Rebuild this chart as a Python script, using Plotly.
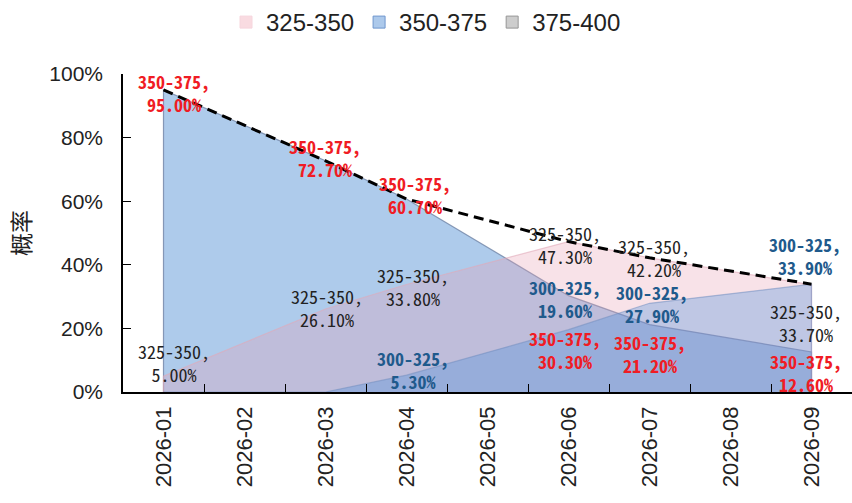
import plotly.graph_objects as go

# Monthly probability by rate bucket (None = month without a reading; gaps are bridged)
months = ["2026-01", "2026-02", "2026-03", "2026-04", "2026-05",
          "2026-06", "2026-07", "2026-08", "2026-09"]
p_350_375 = [95.0, None, 72.7, 60.7, None, 30.3, 21.2, None, 12.6]
p_325_350 = [5.0, None, 26.1, 33.8, None, 47.3, 42.2, None, 33.7]
p_300_325 = [0.0, None, 0.0, 5.3, None, 19.6, 27.9, None, 33.9]

legend_names = ["325-350", "350-375", "375-400"]
y_ticks = [0, 20, 40, 60, 80, 100]
y_tick_text = [f"{t}%" for t in y_ticks]

# Highest bucket probability per month (dashed envelope)
envelope = []
for a, b, c in zip(p_350_375, p_325_350, p_300_325):
    vals = [v for v in (a, b, c) if v is not None]
    envelope.append(max(vals) if vals else None)

LABEL_FONT = "Noto Sans Mono CJK SC, Noto Sans CJK SC, sans-serif"
TICK_FONT = "Liberation Sans, Arial, sans-serif"

fig = go.Figure()


def closed_area(values):
    """Outline of an area: drop to the baseline at both ends so the edges are stroked."""
    idx = [i for i, v in enumerate(values) if v is not None]
    xs = [months[idx[0]]] + months + [months[idx[-1]]]
    ys = [0] + list(values) + [0]
    return xs, ys


series = [
    # (values, fill colour, line colour)
    (p_350_375, "rgba(120,168,222,0.6)", "rgba(105,125,160,0.75)"),
    (p_325_350, "rgba(231,158,178,0.3)", "rgba(225,170,185,0.6)"),
    (p_300_325, "rgba(60,135,220,0.3)", "rgba(110,140,190,0.5)"),
]
for vals, fillc, linec in series:
    xs, ys = closed_area(vals)
    fig.add_trace(go.Scatter(
        x=xs, y=ys, mode="lines", fill="tozeroy", fillcolor=fillc,
        line=dict(color=linec, width=1.2), connectgaps=True,
        showlegend=False, hoverinfo="skip",
    ))

# dashed line tracing the top bucket
fig.add_trace(go.Scatter(
    x=months, y=envelope, mode="lines", connectgaps=True,
    line=dict(color="black", width=3, dash="10px,6px"),
    showlegend=False, hoverinfo="skip",
))

# legend swatches
legend_styles = [
    ("rgb(249,219,225)", "rgb(246,214,221)"),
    ("rgb(172,201,235)", "rgb(110,150,205)"),
    ("rgb(205,205,205)", "rgb(150,150,150)"),
]
for name, (fc, lc) in zip(legend_names, legend_styles):
    fig.add_trace(go.Bar(
        x=[None], y=[None], name=name,
        marker=dict(color=fc, line=dict(color=lc, width=1)),
        showlegend=True,
    ))

# data labels: (bucket, values, colour, bold, per-month pixel offsets)
label_sets = [
    ("350-375", p_350_375, "#f01c24", True,
     {0: (10, -3), 2: (-1, 3), 3: (8, 4), 5: (-4, -54), 6: (0, -29), 8: (-6, -21)}),
    ("325-350", p_325_350, "#222222", False,
     {0: (10, 14), 2: (1, 2), 3: (6, -2), 5: (-4, -3), 6: (4, 0), 8: (-6, -38)}),
    ("300-325", p_300_325, "#1f5a8c", True,
     {3: (6, 6), 5: (-4, 31), 6: (2, 0), 8: (-7, 29)}),
]
for bucket, vals, color, bold, offsets in label_sets:
    for i, v in enumerate(vals):
        if v is None or v <= 0:
            continue
        dx, dy = offsets.get(i, (0, 0))
        txt = f"{bucket},<br>{v:.2f}%"
        if bold:
            txt = f"<b>{bucket},</b><br><b>{v:.2f}%</b>"
        fig.add_annotation(
            x=months[i], y=v, text=txt, showarrow=False,
            xshift=dx, yshift=dy, align="center",
            font=dict(family=LABEL_FONT, size=18, color=color),
        )

fig.update_layout(
    width=852, height=503,
    margin=dict(l=123, r=0, t=74, b=111),
    paper_bgcolor="white", plot_bgcolor="white",
    barmode="overlay",
    legend=dict(
        orientation="h", xref="container", yref="container",
        x=0.5, xanchor="center", y=1.0, yanchor="top",
        font=dict(family=TICK_FONT, size=24, color="#222222"),
        itemwidth=30, traceorder="normal",
    ),
    showlegend=True,
)
fig.update_xaxes(
    type="category", categoryorder="array", categoryarray=months,
    range=[-0.5, 8.5], tickson="boundaries",
    ticks="inside", ticklen=8, tickcolor="black", tickwidth=1.2,
    showline=True, linecolor="black", linewidth=1.5,
    showgrid=False, zeroline=False, tickangle=-90,
    ticklabelstandoff=4,
    tickfont=dict(family=TICK_FONT, size=22, color="#222222"),
)
fig.update_yaxes(
    range=[0, 100], tickmode="array", tickvals=y_ticks, ticktext=y_tick_text,
    ticks="inside", ticklen=8, tickcolor="black", tickwidth=1.2,
    ticklabelstandoff=14,
    showline=True, linecolor="black", linewidth=1.5,
    showgrid=False, zeroline=False,
    tickfont=dict(family=TICK_FONT, size=21, color="#222222"),
    title=dict(text="概率", standoff=12,
               font=dict(family="Noto Sans CJK SC, sans-serif", size=23, color="#222222")),
)

fig.write_html("out.html")
